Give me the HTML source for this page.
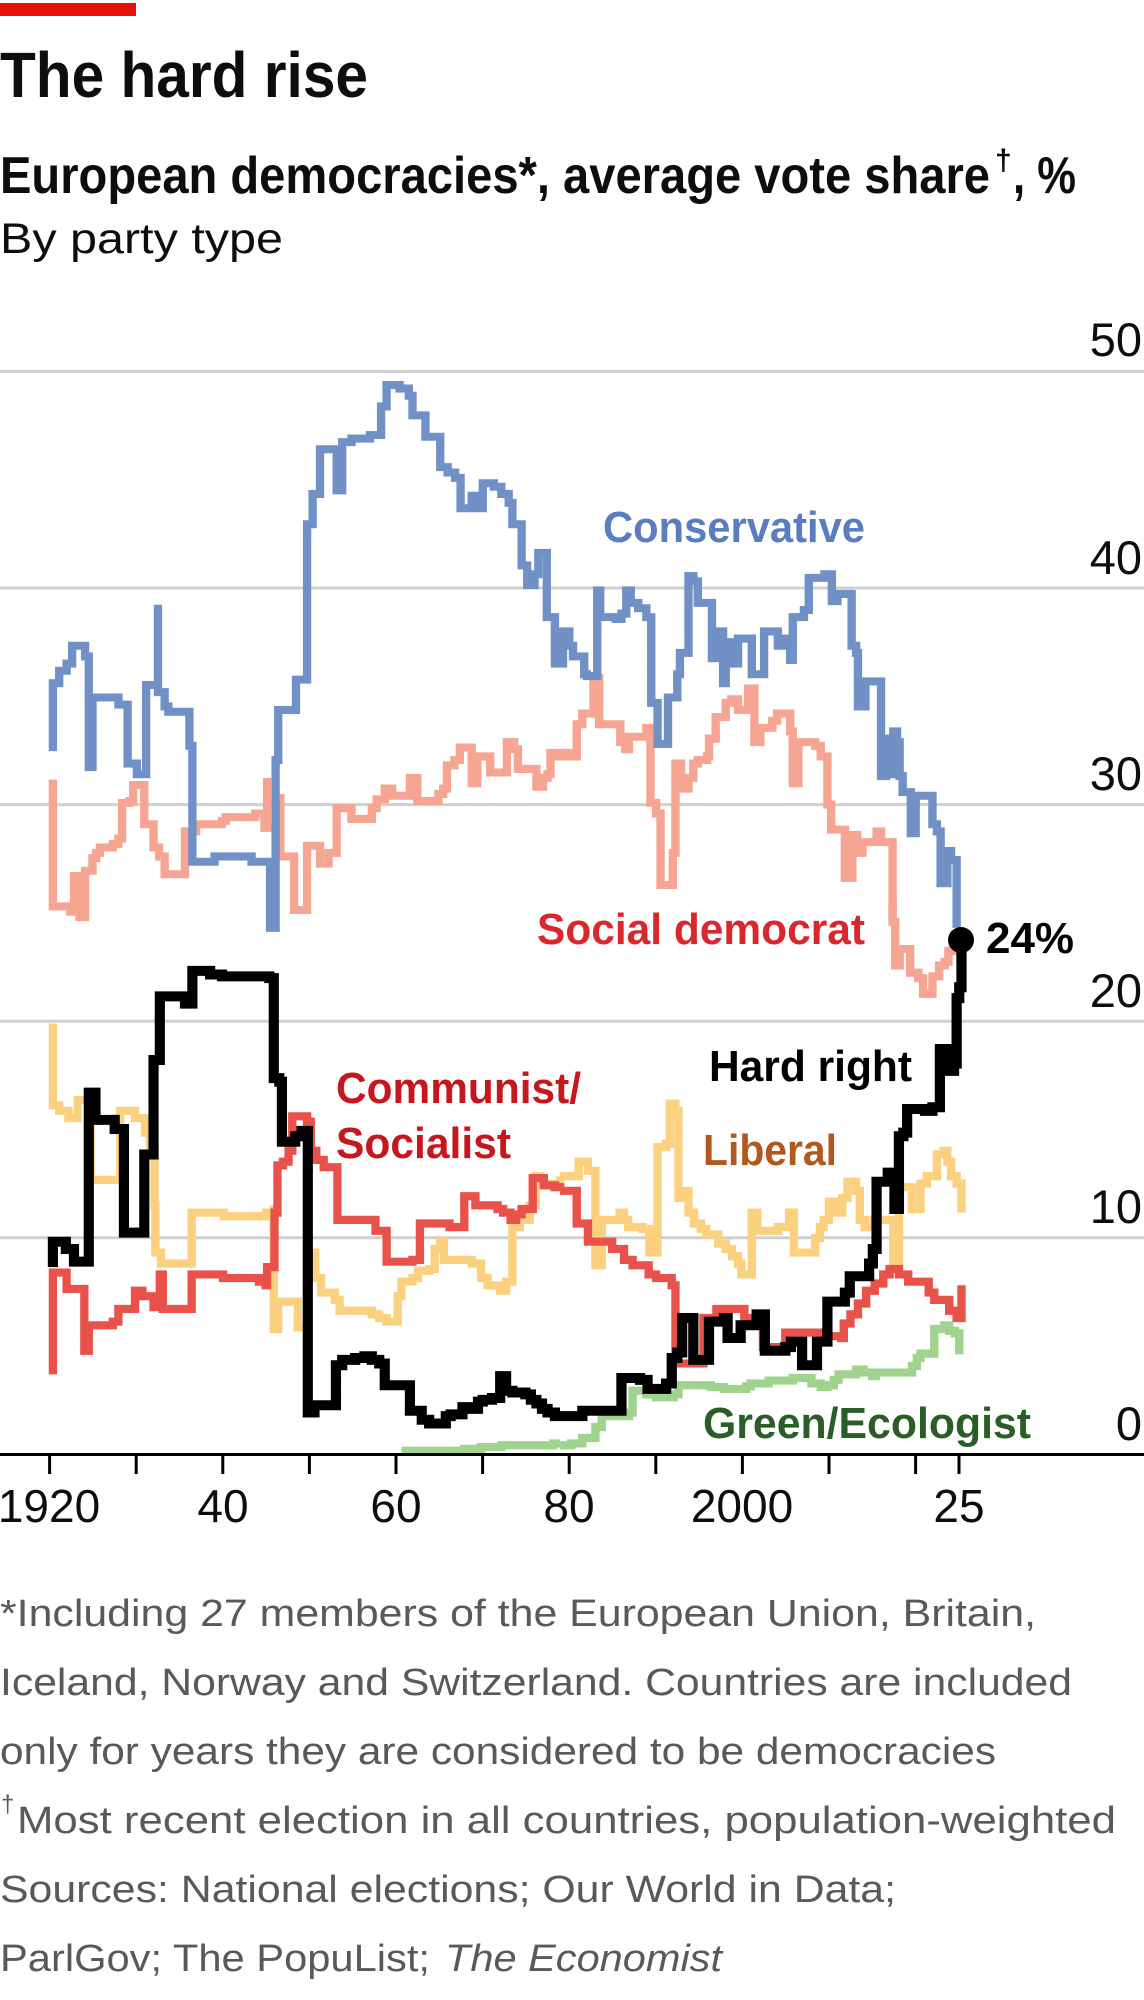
<!DOCTYPE html>
<html><head><meta charset="utf-8"><style>
html,body{margin:0;padding:0;background:#fff;}
svg{display:block;}
text{font-family:"Liberation Sans",Arial,sans-serif;}
</style></head><body>
<svg width="1144" height="2000" viewBox="0 0 1144 2000" xmlns="http://www.w3.org/2000/svg">
<rect x="0" y="0" width="1144" height="2000" fill="#fff"/>
<rect x="0" y="3" width="136" height="13" fill="#e3120b"/>
<text x="0" y="97" font-size="64" font-weight="bold" fill="#0d0d0d" textLength="368" lengthAdjust="spacingAndGlyphs">The hard rise</text>
<text x="0" y="193" font-size="52" font-weight="bold" fill="#0d0d0d" textLength="990" lengthAdjust="spacingAndGlyphs">European democracies*, average vote share</text>
<text x="995" y="170" font-size="30" font-weight="bold" fill="#0d0d0d">†</text>
<text x="1013" y="193" font-size="52" font-weight="bold" fill="#0d0d0d" textLength="63" lengthAdjust="spacingAndGlyphs">, %</text>
<text x="0" y="253" font-size="43" fill="#0d0d0d" textLength="283" lengthAdjust="spacingAndGlyphs">By party type</text>

<!-- gridlines -->
<g stroke="#d0d0d0" stroke-width="3">
<line x1="0" y1="371.4" x2="1144" y2="371.4"/>
<line x1="0" y1="588" x2="1144" y2="588"/>
<line x1="0" y1="804.6" x2="1144" y2="804.6"/>
<line x1="0" y1="1021.2" x2="1144" y2="1021.2"/>
<line x1="0" y1="1237.8" x2="1144" y2="1237.8"/>
</g>
<g font-size="47" fill="#0d0d0d" text-anchor="end">
<text x="1142" y="356">50</text>
<text x="1142" y="574">40</text>
<text x="1142" y="790">30</text>
<text x="1142" y="1007">20</text>
<text x="1142" y="1223">10</text>
<text x="1142" y="1440">0</text>
</g>

<g fill="none" stroke-linejoin="miter" stroke-miterlimit="4" stroke-linecap="butt">
<!-- Green -->
<g transform="translate(0,900) scale(0.36996,0.36350)" stroke="#a0d38e" stroke-width="22.5">
<path d="M1085,1515 H1255 V1510 H1300 V1505 H1355 V1500 H1495 V1495 H1514"/>
</g>
<g transform="translate(560,900) scale(0.37244,0.36350)" stroke="#a0d38e" stroke-width="22.5">
<path d="M0,1500 H30 V1495 H60 V1480 H95 V1450 H112 V1420 H185 V1410 H195 V1350 H232 V1360 H258 V1368 H305 V1360 H318 V1335 H405 V1340 H440 V1345 H500 V1338 H512 V1330 H560 V1322 H625 V1315 H675 V1330 H700 V1340 H718 V1335 H735 V1320 H748 V1305 H795 V1292 H815 V1300 H838 V1310 H848 V1300 H945 V1282 H958 V1260 H968 V1248 H1005 V1180 H1032 V1170 H1045 V1185 H1060 V1192 H1072 V1200 V1250"/>
</g>
<!-- Liberal -->
<g transform="translate(0,900) scale(0.36996,0.36350)" stroke="#fbd180" stroke-width="22.5">
<path d="M143,340 V565 H160 V580 H185 V600 H210 V550 H245 V770 H325 V580 H365 V600 H392 V640 H405 V690 H418 V840 H420 V970 H435 V1000 H518 V860 H605 V870 H720 V860 H740 V840 V1180 H752 V1105 H805 V1175 H830 V970 H852 V1040 H868 V1080 H905 V1100 H918 V1130 H1005 V1140 H1025 V1150 H1045 V1160 H1075 V1090 H1085 V1050 H1115 V1040 H1130 V1020 H1160 V1015 H1175 V960 H1190 V940 H1200 V990 H1275 V1000 H1300 V1040 H1318 V1060 H1352 V1075 H1368 V1050 H1385 V900 H1405 V880 H1432 V840 H1448 V760 H1458 V780 H1495 V790 H1505 V780 H1514 V760"/>
</g>
<g transform="translate(560,900) scale(0.37244,0.36350)" stroke="#fbd180" stroke-width="22.5">
<path d="M0,760 H50 V720 H75 V745 H95 V1005 H112 V880 H160 V860 H172 V880 H183 V900 H222 V905 H240 V970 H262 V680 H285 V670 H295 V560 H310 V580 H318 V820 H338 V800 H345 V860 H360 V890 H378 V905 H393 V920 H425 V945 H445 V960 H462 V980 H478 V1000 H487 V1030 H515 V860 H530 V910 H585 V900 H615 V860 H628 V970 H685 V930 H698 V900 H708 V880 H722 V830 H738 V860 H758 V820 H772 V775 H795 V800 H805 V880 H818 V900 H842 V880 H895 V1000 H910 V790 H945 V850 H968 V780 H985 V760 H1012 V700 H1030 V690 H1040 V720 H1050 V760 H1065 V780 H1078 V860"/>
</g>
<!-- Social democrat -->
<g transform="translate(0,360) scale(0.36996,0.35714)" stroke="#f5a592" stroke-width="22.5">
<path d="M143,1175 V1530 H190 V1545 H200 V1445 H215 V1560 H230 V1430 H250 V1395 H260 V1380 H270 V1365 H305 V1355 H320 V1340 H330 V1240 H350 V1235 H360 V1190 H390 V1300 H415 V1365 H430 V1390 H445 V1440 H500 V1320 H530 V1300 H600 V1290 H610 V1280 H690 V1270 H715 V1310 H722 V1170 V1310 H758 V1215 V1390 H795 V1540 H830 V1360 H865 V1410 H888 V1380 H910 V1255 H950 V1285 H1005 V1255 H1018 V1230 H1040 V1200 H1060 V1220 H1108 V1170 H1128 V1235 H1185 V1215 H1198 V1200 H1208 V1135 H1228 V1120 H1243 V1085 H1275 V1185 H1290 V1110 H1325 V1155 H1370 V1070 H1390 V1090 H1400 V1145 H1450 V1195 H1468 V1170 H1480 V1160 H1488 V1100 H1510 V1110 H1514"/>
</g>
<g transform="translate(560,360) scale(0.37244,0.35714)" stroke="#f5a592" stroke-width="22.5">
<path d="M0,1110 H15 V1100 H25 V1110 H45 V1020 H60 V990 H90 V890 H105 V1020 H162 V1070 H175 V1090 H185 V1055 H232 V1030 H243 V1240 H258 V1270 H270 V1470 H303 V1380 H310 V1130 H325 V1200 H345 V1170 H358 V1130 H370 V1120 H395 V1110 H400 V1060 H418 V1000 H445 V960 H460 V950 H478 V980 H505 V920 H522 V1070 H538 V1030 H570 V1010 H583 V990 H618 V1040 H625 V1185 H640 V1070 H685 V1080 H700 V1110 H718 V1245 H728 V1315 H765 V1450 H785 V1330 H798 V1380 H812 V1350 H850 V1320 H862 V1350 H893 V1575"/>
</g>
<g transform="translate(560,900) scale(0.37244,0.36350)" stroke="#f5a592" stroke-width="22.5">
<path d="M893,0 V60 H900 V180 H912 V135 H940 V200 H962 V215 H975 V258 H1000 V210 H1018 V180 H1033 V170 H1043 V140 H1055 V120 H1065"/>
</g>
<!-- Communist / Socialist -->
<g transform="translate(0,900) scale(0.36996,0.36350)" stroke="#e9524a" stroke-width="22.5">
<path d="M143,1305 V1025 H180 V1070 H228 V1240 H240 V1170 H305 V1160 H320 V1125 H365 V1075 H385 V1090 H415 V1120 H432 V1030 H440 V1125 H518 V1030 H603 V1040 H700 V1050 H718 V1060 H722 V1010 H742 V860 H750 V730 H765 V720 H780 V690 H790 V595 H830 V610 H840 V690 H855 V715 H875 V735 H912 V880 H1015 V910 H1045 V995 H1115 V990 H1135 V890 H1215 V900 H1255 V815 H1285 V840 H1345 V850 H1360 V860 H1380 V880 H1395 V865 H1410 V850 H1440 V765 H1470 V785 H1500 V790 H1514 V800"/>
</g>
<g transform="translate(560,900) scale(0.37244,0.36350)" stroke="#e9524a" stroke-width="22.5">
<path d="M0,800 H45 V890 H75 V940 H140 V960 H172 V990 H195 V1005 H238 V1030 H258 V1040 H300 V1060 H310 V1275 H385 V1150 H420 V1125 H495 V1150 H545 V1230 H605 V1190 H700 V1200 H755 V1205 H762 V1165 H780 V1140 H800 V1110 H822 V1075 H845 V1055 H868 V1030 H885 V1015 H910 V1030 H935 V1050 H990 V1080 H1005 V1100 H1045 V1130 H1065 V1150 H1078 V1060"/>
</g>
<!-- Conservative -->
<g transform="translate(0,360) scale(0.36996,0.35714)" stroke="#7191c6" stroke-width="22.5">
<path d="M143,1095 V905 H160 V870 H180 V850 H195 V800 H230 V830 H240 V1140 H250 V945 H320 V965 H345 V1130 H370 V1160 H395 V910 H427 V685 V930 H445 V970 H455 V985 H512 V1080 H520 V1405 H580 V1390 H680 V1405 H730 V1590 H745 V1120 H752 V980 H800 V895 H830 V460 H845 V375 H865 V250 H910 V365 H925 V230 H950 V220 H1000 V210 H1030 V130 H1045 V70 H1080 V80 H1105 V100 H1115 V155 H1150 V215 H1190 V300 H1210 V315 H1230 V330 H1245 V415 H1275 V380 H1295 V415 H1305 V345 H1335 V355 H1355 V375 H1375 V400 H1385 V460 H1410 V575 H1425 V630 H1445 V600 H1455 V540 H1478 V720 H1500 V850 H1514"/>
</g>
<g transform="translate(560,360) scale(0.37244,0.35714)" stroke="#7191c6" stroke-width="22.5">
<path d="M0,850 H8 V760 H25 V800 H35 V830 H65 V880 H72 V885 H100 V645 H108 V720 H150 V725 H165 V710 H178 V645 H190 V680 H210 V695 H232 V720 H245 V960 H262 V1075 H290 V945 H315 V880 H322 V820 H345 V605 H358 V620 H370 V680 H408 V835 H420 V760 H438 V905 H445 V790 H465 V850 H478 V780 H515 V880 H548 V760 H585 V800 H598 V780 H618 V840 H625 V720 H655 V700 H668 V610 H710 V600 H730 V675 H745 V655 H783 V800 H795 V820 H800 V970 H820 V900 H862 V1165 H875 V1060 H885 V1160 H895 V1040 H905 V1070 H912 V1165 H920 V1210 H942 V1325 H955 V1220 H1000 V1300 H1012 V1320 H1022 V1465 H1040 V1375 H1050 V1400 H1065 V1590"/>
</g>
<!-- Hard right -->
<g transform="translate(0,900) scale(0.36996,0.36350)" stroke="#000" stroke-width="27.5">
<path d="M143,1010 V940 H178 V960 H200 V995 H240 V530 H258 V605 H310 V630 H335 V915 H390 V700 H415 V440 H432 V265 H500 V285 H520 V195 H568 V205 H600 V210 H728 V215 H740 V490 H755 V500 H762 V665 H798 V650 H815 V635 H832 V1410 H850 V1390 H908 V1280 H925 V1265 H960 V1260 H985 V1255 H1005 V1265 H1025 V1275 H1040 V1335 H1108 V1405 H1140 V1430 H1160 V1440 H1205 V1420 H1218 V1415 H1250 V1395 H1275 V1400 H1292 V1380 H1305 V1375 H1330 V1370 H1352 V1310 H1368 V1350 H1385 V1355 H1420 V1360 H1435 V1375 H1450 V1385 H1465 V1400 H1480 V1410 H1500 V1420 H1514"/>
</g>
<g transform="translate(560,900) scale(0.37244,0.36350)" stroke="#000" stroke-width="27.5">
<path d="M0,1420 H60 V1405 H165 V1315 H215 V1320 H235 V1345 H285 V1330 H300 V1260 H315 V1245 H328 V1150 H358 V1265 H400 V1160 H440 V1150 H450 V1205 H485 V1170 H528 V1140 H550 V1240 H605 V1230 H620 V1215 H650 V1280 H690 V1215 H718 V1105 H765 V1080 H778 V1035 H830 V1000 H840 V960 H850 V775 H880 V750 H898 V850 H910 V650 H922 V640 H932 V575 H980 V580 H1000 V570 H1020 V410 H1045 V470 H1058 V450 H1065 V270 H1072 V240 H1078 V110"/>
</g>
</g>
<circle cx="961" cy="940" r="13" fill="#000"/>

<!-- axis -->
<line x1="0" y1="1454.5" x2="1144" y2="1454.5" stroke="#000" stroke-width="3"/>
<g stroke="#000" stroke-width="3">
<line x1="49.6" y1="1454" x2="49.6" y2="1474"/>
<line x1="136.2" y1="1454" x2="136.2" y2="1474"/>
<line x1="222.8" y1="1454" x2="222.8" y2="1474"/>
<line x1="309.4" y1="1454" x2="309.4" y2="1474"/>
<line x1="396" y1="1454" x2="396" y2="1474"/>
<line x1="482.6" y1="1454" x2="482.6" y2="1474"/>
<line x1="569.2" y1="1454" x2="569.2" y2="1474"/>
<line x1="655.8" y1="1454" x2="655.8" y2="1474"/>
<line x1="742.4" y1="1454" x2="742.4" y2="1474"/>
<line x1="829" y1="1454" x2="829" y2="1474"/>
<line x1="915.6" y1="1454" x2="915.6" y2="1474"/>
<line x1="959" y1="1454" x2="959" y2="1474"/>
</g>
<g font-size="46" fill="#0d0d0d" text-anchor="middle">
<text x="49" y="1522">1920</text>
<text x="223" y="1522">40</text>
<text x="396" y="1522">60</text>
<text x="569" y="1522">80</text>
<text x="742" y="1522">2000</text>
<text x="959" y="1522">25</text>
</g>

<!-- series labels -->
<g font-size="44" font-weight="bold">
<text x="603" y="542" fill="#5a7dbf" textLength="262" lengthAdjust="spacingAndGlyphs">Conservative</text>
<text x="537" y="944" fill="#d9272b" textLength="328" lengthAdjust="spacingAndGlyphs">Social democrat</text>
<text x="336" y="1103" fill="#c6171e" textLength="245" lengthAdjust="spacingAndGlyphs">Communist/</text>
<text x="336" y="1158" fill="#c6171e" textLength="175" lengthAdjust="spacingAndGlyphs">Socialist</text>
<text x="709" y="1081" fill="#000" textLength="203" lengthAdjust="spacingAndGlyphs">Hard right</text>
<text x="703" y="1165" fill="#b3581c" textLength="134" lengthAdjust="spacingAndGlyphs">Liberal</text>
<text x="703" y="1438" fill="#2b5e27" textLength="328" lengthAdjust="spacingAndGlyphs">Green/Ecologist</text>
<text x="986" y="953" fill="#000" textLength="88" lengthAdjust="spacingAndGlyphs">24%</text>
</g>

<!-- footnotes -->
<g font-size="38" fill="#595959">
<text x="0" y="1626" textLength="1036" lengthAdjust="spacingAndGlyphs">*Including 27 members of the European Union, Britain,</text>
<text x="0" y="1695" textLength="1072" lengthAdjust="spacingAndGlyphs">Iceland, Norway and Switzerland. Countries are included</text>
<text x="0" y="1764" textLength="996" lengthAdjust="spacingAndGlyphs">only for years they are considered to be democracies</text>
<text x="1" y="1812" font-size="24">†</text>
<text x="17" y="1833" textLength="1099" lengthAdjust="spacingAndGlyphs">Most recent election in all countries, population-weighted</text>
<text x="0" y="1902" textLength="896" lengthAdjust="spacingAndGlyphs">Sources: National elections; Our World in Data;</text>
<text x="0" y="1971" textLength="430" lengthAdjust="spacingAndGlyphs">ParlGov; The PopuList;</text>
<text x="445" y="1971" font-style="italic" textLength="277" lengthAdjust="spacingAndGlyphs">The Economist</text>
</g>
</svg>
</body></html>
